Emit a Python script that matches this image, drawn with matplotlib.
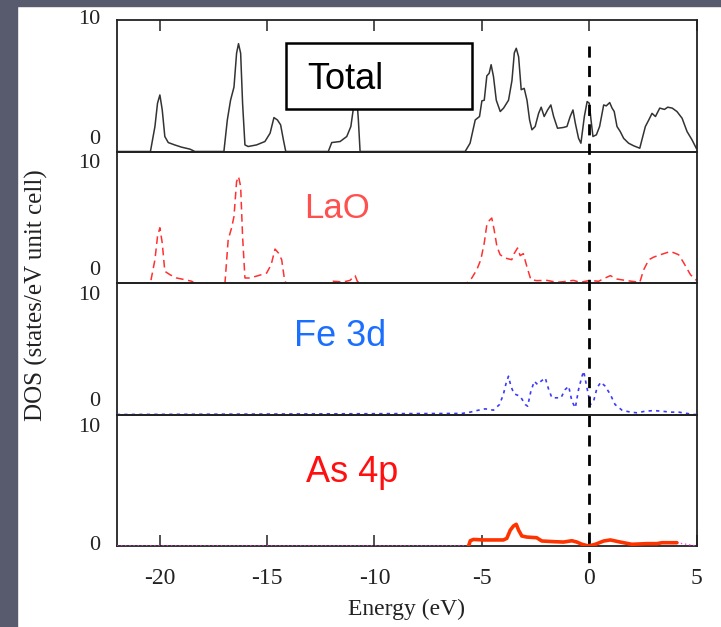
import matplotlib
matplotlib.use("Agg")
import matplotlib.pyplot as plt
import matplotlib.transforms as mtransforms
from matplotlib.patches import Rectangle
from matplotlib.lines import Line2D
import numpy as np

# ---------------- data ----------------
total_E = [-22.0, -20.43, -20.22, -20.1, -19.99, -19.88, -19.76, -19.6, -19.3, -18.98, -18.59, -18.36,
           -17.01, -16.85, -16.7, -16.54, -16.42, -16.33, -16.23, -16.14, -16.03, -15.88, -15.49, -15.1,
           -14.86, -14.68, -14.52, -14.37, -14.24, -14.13,
           -12.15, -11.99, -11.6, -11.29, -11.1, -10.98, -10.9, -10.82, -10.75, -10.67,
           -5.78, -5.55, -5.31, -5.11, -5.0, -4.89, -4.77, -4.66, -4.57, -4.46, -4.33, -4.145, -3.99,
           -3.76, -3.6, -3.49, -3.4, -3.29, -3.17, -3.03, -2.9, -2.78, -2.67, -2.52, -2.36, -2.24, -2.1,
           -1.94, -1.79, -1.66, -1.48, -1.23, -1.04, -0.89, -0.76, -0.65, -0.5, -0.39, -0.23, -0.1, 0.0,
           0.08, 0.17, 0.33, 0.48, 0.67, 0.79, 0.95, 1.06, 1.16, 1.29, 1.44, 1.6, 1.83, 2.07, 2.35, 2.45,
           2.61, 2.77, 2.92, 3.08, 3.28, 3.5, 3.65, 3.86, 4.08, 4.32, 4.55, 4.78, 4.98]
total_dos = [0.0, 0.0, 1.9, 3.67, 4.3, 3.16, 1.14, 0.68, 0.5, 0.33, 0.18, 0.0,
             0.0, 2.4, 3.9, 4.9, 7.47, 8.2, 7.47, 3.67, 0.5, 0.38, 0.5, 0.76,
             1.39, 2.58, 2.4, 2.03, 0.89, 0.0,
             0.0, 0.68, 0.76, 1.14, 1.9, 3.3, 4.6, 4.0, 2.4, 0.0,
             0.0, 0.63, 2.4, 2.66, 3.85, 3.9, 5.75, 5.95, 6.6, 5.7, 3.9, 3.04, 3.3,
             3.9, 5.4, 7.5, 7.85, 7.2, 4.7, 4.8, 3.9, 2.4, 1.65, 1.9, 2.9, 3.37, 2.66,
             3.16, 3.54, 2.66, 1.77, 1.82, 1.9, 2.66, 3.16, 2.15, 1.0, 0.63, 2.66, 3.8, 3.67,
             2.4, 1.14, 1.27, 1.9, 3.54, 3.47, 3.72, 3.3, 3.04, 1.9, 1.52, 1.0, 0.63, 0.43, 0.25, 0.89,
             1.9, 2.4, 2.9, 2.66, 3.3, 3.2, 3.37, 3.3, 3.04, 2.53, 1.52, 0.89, 0.25]

lao_E = [-22.0, -20.43, -20.22, -20.1, -19.99, -19.88, -19.76, -19.52, -19.21, -18.82, -18.5, -18.4,
         -16.96, -16.81, -16.65, -16.54, -16.42, -16.33, -16.23, -16.14, -16.03, -15.8, -15.41, -15.02,
         -14.81, -14.63, -14.47, -14.32, -14.21, -14.13,
         -12.15, -11.92, -11.45, -11.14, -10.9, -10.8, -10.7,
         -5.7, -5.47, -5.24, -5.05, -4.89, -4.77, -4.65, -4.54, -4.43, -4.3, -4.15, -3.92, -3.61, -3.5,
         -3.34, -3.22, -3.07, -2.91, -2.72, -2.44, -1.97, -1.51, -1.2, -0.74, -0.42, 0.04, 0.43, 0.74,
         0.98, 1.29, 1.75, 2.35, 2.53, 2.77, 3.0, 3.31, 3.78, 4.16, 4.4, 4.71, 4.99]
lao_dos = [0.0, 0.0, 1.77, 3.54, 4.2, 3.04, 0.89, 0.63, 0.38, 0.25, 0.13, 0.0,
           0.0, 3.3, 4.2, 5.06, 7.7, 8.1, 7.34, 3.54, 0.38, 0.38, 0.56, 0.76,
           1.39, 2.58, 2.28, 1.77, 0.5, 0.0,
           0.0, 0.13, 0.08, 0.2, 0.56, 0.13, 0.0,
           0.0, 0.38, 1.0, 1.77, 3.04, 4.43, 4.76, 4.94, 4.05, 2.78, 2.15, 1.9, 1.77, 2.23,
           2.66, 2.08, 2.23, 1.27, 0.25, 0.18, 0.2, 0.05, 0.1, 0.2, 0.05, 0.2, 0.13, 0.38,
           0.56, 0.3, 0.18, 0.05, 1.0, 1.77, 1.97, 2.15, 2.4, 2.15, 1.52, 0.63, 0.2]

fe_E = [-22.0, -5.93, -5.54, -5.24, -4.85, -4.46, -4.18, -4.0, -3.87, -3.76, -3.65, -3.5, -3.22,
        -2.98, -2.87, -2.72, -2.56, -2.41, -2.25, -2.05, -1.89, -1.74, -1.51, -1.32, -1.12, -0.96,
        -0.81, -0.65, -0.5, -0.34, -0.26, -0.14, 0.05, 0.2, 0.36, 0.54, 0.74, 0.98, 1.2, 1.52, 1.91,
        2.22, 2.61, 3.0, 3.38, 3.77, 4.16, 4.55, 4.86]
fe_dos = [0.0, 0.08, 0.18, 0.3, 0.43, 0.33, 0.76, 1.52, 2.4, 2.91, 2.15, 1.57, 1.39,
          0.76, 0.63, 1.77, 2.53, 2.28, 2.53, 2.78, 1.9, 1.27, 1.27, 1.27, 1.9, 2.15,
          1.01, 0.51, 1.9, 2.91, 3.29, 2.28, 0.76, 1.01, 2.03, 2.46, 2.15, 1.52, 0.76, 0.33, 0.18,
          0.13, 0.25, 0.3, 0.25, 0.18, 0.18, 0.08, 0.0]

as_E = [-5.62, -5.54, -5.39, -4.92, -4.46, -4.0, -3.84, -3.68, -3.53, -3.4, -3.29, -3.14, -2.91,
        -2.45, -2.21, -1.66, -1.2, -0.81, -0.58, -0.34, -0.03, 0.28, 0.67, 0.98, 1.44, 1.98, 2.68,
        3.15, 3.38, 4.08]
as_dos = [0.0, 0.4, 0.5, 0.46, 0.46, 0.46, 0.58, 1.2, 1.52, 1.65, 1.2, 0.76, 0.68,
          0.63, 0.38, 0.33, 0.3, 0.4, 0.3, 0.13, 0.0, 0.13, 0.38, 0.46, 0.3, 0.13, 0.18,
          0.18, 0.25, 0.25]

x_ticks = [-20, -15, -10, -5, 0, 5]
y_ticks = [0, 10]
panel_labels = ["Total", "LaO", "Fe 3d", "As 4p"]
panel_label_colors = ["black", "#ff5050", "#1a6fff", "#ff1010"]

# ---------------- figure ----------------
W, H = 721, 627
fig = plt.figure(figsize=(W / 100, H / 100), dpi=100)
fig.patch.set_facecolor("white")
bg = "#585b6d"
fig.add_artist(Rectangle((0, 0), 17 / W, 1, transform=fig.transFigure, color=bg, zorder=0))
fig.add_artist(Rectangle((0, 1 - 6 / H), 1, 6 / H, transform=fig.transFigure, color=bg, zorder=0))

serif = ["Liberation Serif", "DejaVu Serif"]
sans = ["Liberation Sans", "DejaVu Sans"]

left, right = 116.7 / W, 696.7 / W
top_px, bot_px = 20, 546
ph = (bot_px - top_px) / 4
axes = []
for i in range(4):
    y0 = 1 - (top_px + (i + 1) * ph) / H
    ax = fig.add_axes([left, y0, right - left, ph / H])
    ax.set_xlim(-22, 5)
    ax.set_ylim(0, 10)
    for s in ax.spines.values():
        s.set_linewidth(1.3)
        s.set_color("#222222")
    ax.set_yticks([])
    ax.set_xticks(x_ticks)
    ax.tick_params(axis="x", direction="in", length=8, width=1.1, colors="#222222",
                   top=(i == 0), bottom=(i == 3), labelbottom=(i == 3), labeltop=False)
    ax.patch.set_alpha(0)
    axes.append(ax)

# panel data
axes[0].plot(total_E, total_dos, color="#333333", lw=1.1, zorder=2)
axes[1].plot(lao_E, lao_dos, color="#ff3030", lw=1.1, ls=(0, (5, 3)), zorder=2)
axes[2].plot(fe_E + [5.0], fe_dos + [0.0], color="#3a3aff", lw=1.2, ls=(0, (2, 2.5)), zorder=3)
axes[3].plot([-22.0] + as_E + [5.0], [0.0] + as_dos + [0.0], color="#ff40ff", lw=1.0,
             ls=(0, (1, 2)), zorder=3)
axes[3].plot(as_E, as_dos, color="#ff3300", lw=2.6, zorder=4, solid_capstyle="round")

# Total box
axes[0].add_patch(Rectangle((-14.12, 3.22), 8.67, 5.01, facecolor="white", edgecolor="black",
                            lw=1.8, zorder=5))
axes[0].text(-11.35, 5.5, panel_labels[0], color=panel_label_colors[0], fontsize=26,
             family=sans, ha="center", va="center", zorder=6)
axes[1].text(-11.75, 5.7, panel_labels[1], color=panel_label_colors[1], fontsize=25,
             family=sans, ha="center", va="center")
axes[2].text(-11.6, 5.9, panel_labels[2], color=panel_label_colors[2], fontsize=26,
             family=sans, ha="center", va="center")
axes[3].text(-11.05, 5.6, panel_labels[3], color=panel_label_colors[3], fontsize=26,
             family=sans, ha="center", va="center")

# y tick labels (stacked panels)
for i, ax in enumerate(axes):
    tr = mtransforms.blended_transform_factory(ax.transAxes, ax.transData)
    off0 = 0 if i == 3 else 9
    off10 = 0 if i == 0 else -9
    ax.text(-0.028, 0, "0", transform=tr + mtransforms.ScaledTranslation(0, off0 / 72, fig.dpi_scale_trans),
            ha="right", va="center", fontsize=16, family=serif, color="#222222")
    ax.text(-0.028, 10, "10", transform=tr + mtransforms.ScaledTranslation(0, off10 / 72, fig.dpi_scale_trans),
            ha="right", va="center", fontsize=16, family=serif, color="#222222")

axes[3].set_xticklabels([str(t) for t in x_ticks], fontsize=17, family=serif, color="#222222")
axes[3].tick_params(axis="x", pad=16)
axes[3].set_xlabel("Energy (eV)", fontsize=17, family=serif, color="#222222", labelpad=7)
fig.text(36 / W, 1 - 295 / H, "DOS (states/eV unit cell)", rotation=90, fontsize=18,
         family=serif, color="#222222", ha="center", va="center")

# Fermi level dashed line spanning all panels
trf = mtransforms.blended_transform_factory(axes[3].transData, fig.transFigure)
fig.add_artist(Line2D([0, 0], [1 - 46 / H, 1 - 566 / H], transform=trf, color="black",
                      lw=2.0, ls=(0, (4, 3)), zorder=10))

fig.savefig("out.png", dpi=100, facecolor=fig.get_facecolor())
